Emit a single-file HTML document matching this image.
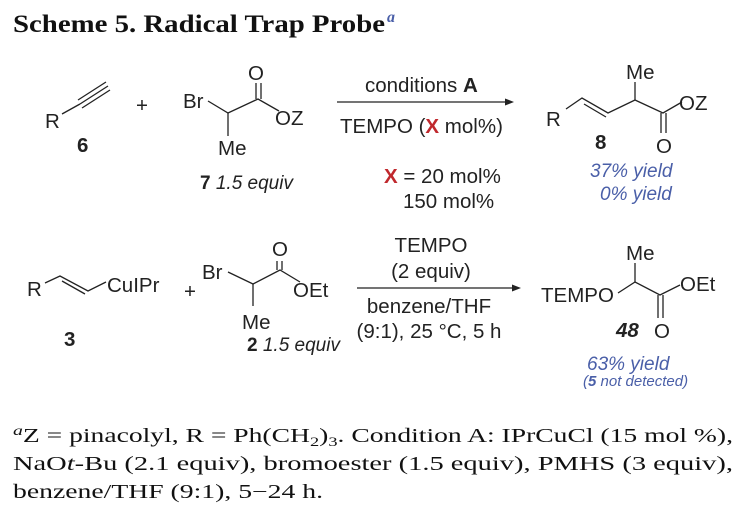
<!DOCTYPE html>
<html><head><meta charset="utf-8"><style>
html,body{margin:0;padding:0;background:#fff;}
svg{display:block;}
.s{font-family:"Liberation Sans",Arial,sans-serif;font-size:20.5px;fill:#222;}
.b{font-weight:bold;}
.bl{fill:#4a5fa8;font-style:italic;}
.red{fill:#c0282d;font-weight:bold;}
.serif{font-family:"Liberation Serif",serif;fill:#111;}
line,polyline{stroke:#222;stroke-width:1.3;fill:none;}
</style></head><body>
<svg width="742" height="515" viewBox="0 0 742 515" xmlns="http://www.w3.org/2000/svg">
<text x="13" y="32" class="serif" font-size="25" font-weight="bold" textLength="372" lengthAdjust="spacingAndGlyphs">Scheme 5. Radical Trap Probe</text>
<text x="387" y="22" class="serif" font-size="16" font-style="italic" font-weight="bold" style="fill:#4a5fa8">a</text>

<!-- Row 1: alkyne 6 -->
<text x="45" y="128" class="s">R</text>
<line x1="62" y1="114" x2="80" y2="104"/>
<line x1="80" y1="104" x2="108" y2="86"/>
<line x1="78" y1="100" x2="106" y2="82"/>
<line x1="82" y1="108" x2="110" y2="90"/>
<text x="77" y="152" class="s b">6</text>
<text x="136" y="112" class="s">+</text>

<!-- 7 -->
<text x="183" y="108" class="s">Br</text>
<polyline points="208,101 228,113 258,99 279,111"/>
<line x1="228" y1="113" x2="228" y2="136"/>
<line x1="256" y1="99" x2="256" y2="83"/>
<line x1="261" y1="99" x2="261" y2="83"/>
<text x="248" y="80" class="s">O</text>
<text x="275" y="125" class="s">OZ</text>
<text x="218" y="155" class="s">Me</text>
<text x="200" y="189" class="s" style="font-size:19px"><tspan class="b">7</tspan> <tspan font-style="italic">1.5 equiv</tspan></text>

<!-- Arrow 1 -->
<line x1="337" y1="102" x2="510" y2="102"/>
<polygon points="514,102 505,98.5 505,105.5" fill="#222"/>
<text x="365" y="92" class="s">conditions <tspan class="b">A</tspan></text>
<text x="340" y="133" class="s">TEMPO (<tspan class="red">X</tspan> mol%)</text>
<text x="384" y="183" class="s"><tspan class="red">X</tspan> =  20 mol%</text>
<text x="403" y="208" class="s">150 mol%</text>

<!-- Product 8 -->
<text x="546" y="126" class="s">R</text>
<polyline points="566,109 582,98 608,113 635,100 663,113 682,102"/>
<line x1="584" y1="104" x2="606" y2="117"/>
<line x1="635" y1="100" x2="635" y2="82"/>
<line x1="661" y1="113" x2="661" y2="133"/>
<line x1="666" y1="113" x2="666" y2="133"/>
<text x="626" y="79" class="s">Me</text>
<text x="679" y="110" class="s">OZ</text>
<text x="656" y="153" class="s">O</text>
<text x="595" y="149" class="s b">8</text>
<text x="590" y="177" class="s bl" style="font-size:19px">37% yield</text>
<text x="600" y="200" class="s bl" style="font-size:19px">0% yield</text>

<!-- Row 2: 3 -->
<text x="27" y="296" class="s">R</text>
<polyline points="45,283 60,276 88,291 106,282"/>
<line x1="62" y1="281" x2="85" y2="294"/>
<text x="107" y="292" class="s">CuIPr</text>
<text x="64" y="346" class="s b">3</text>
<text x="184" y="298" class="s">+</text>

<!-- 2 -->
<text x="202" y="279" class="s">Br</text>
<polyline points="228,272 253,284 280,270 300,282"/>
<line x1="253" y1="284" x2="253" y2="306"/>
<line x1="277" y1="270" x2="277" y2="261"/>
<line x1="282" y1="270" x2="282" y2="261"/>
<text x="272" y="256" class="s">O</text>
<text x="293" y="297" class="s">OEt</text>
<text x="242" y="329" class="s">Me</text>
<text x="247" y="351" class="s" style="font-size:19px"><tspan class="b">2</tspan> <tspan font-style="italic">1.5 equiv</tspan></text>

<!-- Arrow 2 -->
<line x1="357" y1="288" x2="517" y2="288"/>
<polygon points="521,288 512,284.5 512,291.5" fill="#222"/>
<text x="431" y="252" class="s" text-anchor="middle">TEMPO</text>
<text x="431" y="278" class="s" text-anchor="middle">(2 equiv)</text>
<text x="429" y="313" class="s" text-anchor="middle">benzene/THF</text>
<text x="429" y="338" class="s" text-anchor="middle">(9:1), 25 °C, 5 h</text>

<!-- Product 48 -->
<text x="541" y="302" class="s">TEMPO</text>
<polyline points="618,293 635,282 660,295 680,285"/>
<line x1="635" y1="282" x2="635" y2="263"/>
<line x1="658" y1="295" x2="658" y2="318"/>
<line x1="663" y1="295" x2="663" y2="318"/>
<text x="626" y="260" class="s">Me</text>
<text x="680" y="291" class="s">OEt</text>
<text x="654" y="338" class="s">O</text>
<text x="616" y="337" class="s b" font-style="italic">48</text>
<text x="587" y="370" class="s bl" style="font-size:19px">63% yield</text>
<text x="583" y="386" class="s bl" style="font-size:15px">(<tspan font-weight="bold">5</tspan> not detected)</text>

<!-- Footnote -->
<text x="13" y="442" class="serif" font-size="19.5" textLength="720" lengthAdjust="spacingAndGlyphs"><tspan font-style="italic" font-size="14" dy="-7">a</tspan><tspan dy="7">Z = pinacolyl, R = Ph(CH</tspan><tspan font-size="13" dy="4">2</tspan><tspan dy="-4">)</tspan><tspan font-size="13" dy="4">3</tspan><tspan dy="-4">. Condition A: IPrCuCl (15 mol %),</tspan></text>
<text x="13" y="470" class="serif" font-size="19.5" textLength="720" lengthAdjust="spacingAndGlyphs">NaO<tspan font-style="italic">t</tspan>-Bu  (2.1  equiv),  bromoester  (1.5  equiv),  PMHS  (3  equiv),</text>
<text x="13" y="498" class="serif" font-size="19.5" textLength="310" lengthAdjust="spacingAndGlyphs">benzene/THF (9:1), 5−24 h.</text>
</svg>
</body></html>
